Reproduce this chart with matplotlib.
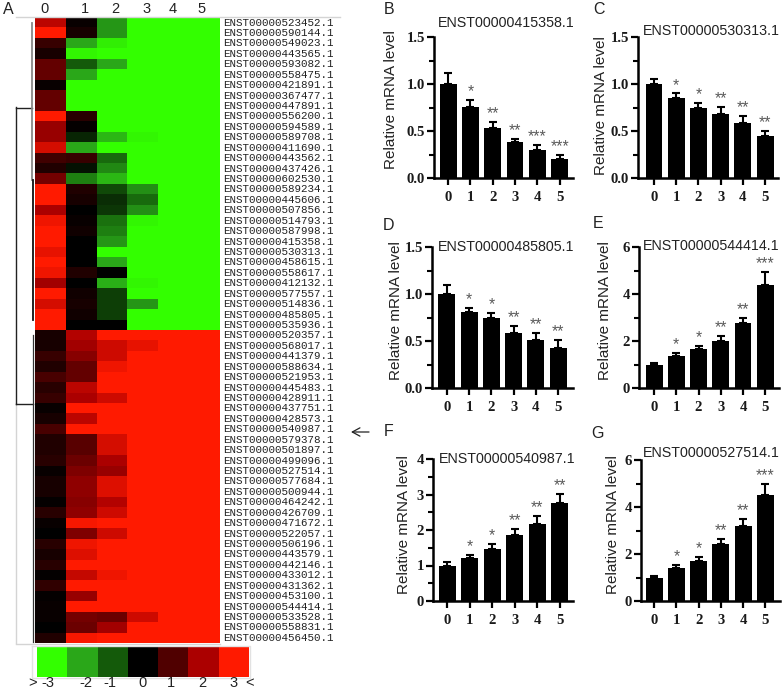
import matplotlib
matplotlib.use("Agg")
import matplotlib.pyplot as plt
import numpy as np
from matplotlib.colors import LinearSegmentedColormap
from matplotlib.ticker import MultipleLocator

W, H = 784, 693

# ---------- heat map data ----------
genes = """523452 590144 549023 443565 593082 558475 421891 367477 447891 556200
594589 589708 411690 443562 437426 602530 589234 445606 507856 514793
587998 415358 530313 458615 558617 412132 577557 514836 485805 535936
520357 568017 441379 588634 521953 445483 428911 437751 428573 540987
579378 501897 499096 527514 577684 500944 464242 426709 471672 522057
506196 443579 442146 433012 431362 453100 544414 533528 558831 456450""".split()
col0 = [2.2, 3, 0.7, 0.3, 1.2, 1.2, 0.1, 1.2, 1.2, 3, 1.8, 1.8, 2.5, 0.8, 0.4, 1.4, 3, 3, 2, 2.8,
        3, 3, 2.7, 3, 2.8, 1.9, 3, 2.5, 3, 3,
        0.3, 0.3, 0.7, 0.4, 0.9, 0.5, 0.7, 0.1, 0.3, 0.9, 0.4, 0.4, 0.5, 0.1, 0.3, 0.3, 0.05, 0.5, 0.1, 0,
        0.5, 0.3, 0.5, 0.05, 0.6, 0.05, 0.1, 0.1, 0, 0.4]
col1 = [0.1, 0.3, -2, -2.9, -1, -2, -3, -3, -3, 0.5, 0.05, -0.4, -2, 0.7, -0.2, -1.5, 0.4, 0.3, 0, 0.1,
        0.2, 0, 0, 0, 0.4, 0, 0.2, 0.3, 0.2, 0,
        2.1, 1.9, 1.6, 1.2, 1.2, 2.2, 2, 3, 2.2, 3, 1.1, 1.1, 1.3, 1.5, 1.7, 1.7, 1.6, 1.7, 2.9, 1.5,
        2.8, 2.6, 3, 2.3, 3, 1.8, 3, 1.4, 1.3, 2.9]
col2 = [-1.8, -1.8, -2.8, -3, -2, -3, -3, -3, -3, -3, -3, -2.2, -3, -1.2, -1.6, -2.2, -0.8, -0.5, -0.6, -1.3,
        -1.5, -1.8, -3, -2, 0, -2.1, -0.7, -0.7, -0.7, 0,
        3, 2.4, 2.4, 2.8, 3, 3, 2.4, 3, 3, 3, 2.5, 2.5, 2, 1.8, 2.6, 2.6, 2.1, 2.4, 3, 2.4,
        3, 3, 3, 2.8, 3, 3, 3, 1.3, 1.9, 3]
col3 = [-3, -3, -3, -3, -3, -3, -3, -3, -3, -3, -3, -2.9, -3, -3, -3, -3, -1.7, -1.2, -1.7, -2.9,
        -3, -3, -3, -3, -3, -2.9, -3, -1.8, -3, -3,
        3, 2.7, 3, 3, 3, 3, 3, 3, 3, 3, 3, 3, 3, 3, 3, 3, 3, 3, 3, 3,
        3, 3, 3, 3, 3, 3, 3, 2.4, 3, 3]
col4 = [-3] * 30 + [3] * 30
col5 = [-3] * 30 + [3] * 30
heat_cols = ["0", "1", "2", "3", "4", "5"]
scale_levels = [-3, -2, -1, 0, 1, 2, 3]
scale_colors = ["#33ff00", "#2aa61a", "#145a0a", "#000000", "#500000", "#aa0000", "#ff1a00"]

# ---------- bar chart data ----------
bar_groups = ["0", "1", "2", "3", "4", "5"]
b_val = [1.0, 0.76, 0.53, 0.38, 0.30, 0.20]
b_top = [1.12, 0.83, 0.60, 0.42, 0.35, 0.25]
b_sig = ["", "*", "**", "**", "***", "***"]
c_val = [1.0, 0.85, 0.74, 0.68, 0.58, 0.45]
c_top = [1.05, 0.90, 0.80, 0.76, 0.66, 0.50]
c_sig = ["", "*", "*", "**", "**", "**"]
d_val = [1.0, 0.81, 0.74, 0.58, 0.51, 0.43]
d_top = [1.10, 0.85, 0.80, 0.66, 0.59, 0.51]
d_sig = ["", "*", "*", "**", "**", "**"]
e_val = [1.0, 1.38, 1.65, 2.0, 2.75, 4.4]
e_top = [1.05, 1.5, 1.8, 2.2, 3.0, 4.95]
e_sig = ["", "*", "*", "**", "**", "***"]
f_val = [1.0, 1.2, 1.47, 1.85, 2.18, 2.75]
f_top = [1.1, 1.3, 1.6, 2.02, 2.4, 3.02]
f_sig = ["", "*", "*", "**", "**", "**"]
g_val = [0.97, 1.4, 1.72, 2.42, 3.2, 4.52]
g_top = [1.05, 1.52, 1.88, 2.65, 3.5, 5.0]
g_sig = ["", "*", "*", "**", "**", "***"]

plt.rcParams["font.family"] = ["Liberation Sans", "DejaVu Sans"]
fig = plt.figure(figsize=(W / 100, H / 100), dpi=100, facecolor="white")


def px_axes(left, top, right, bottom, **kw):
    return fig.add_axes([left / W, 1 - bottom / H, (right - left) / W, (bottom - top) / H], **kw)


# overlay in pixel coordinates for frame lines and free text
ov = fig.add_axes([0, 0, 1, 1], zorder=5)
ov.set_xlim(0, W)
ov.set_ylim(H, 0)
ov.axis("off")
ov.patch.set_alpha(0)

# ---------- heat map ----------
cmap = LinearSegmentedColormap.from_list(
    "gbr", [((v + 3) / 6, c) for v, c in zip(scale_levels, scale_colors)])
heat = np.array([col0, col1, col2, col3, col4, col5]).T
axh = px_axes(35, 17.3, 220, 643)
axh.imshow(heat, cmap=cmap, vmin=-3, vmax=3, aspect="auto", interpolation="nearest")
axh.axis("off")
for i, g in enumerate(genes):
    axh.annotate(f"ENST00000{g}.1", (1, i), xycoords=("axes fraction", "data"),
                 xytext=(2, 0), textcoords="offset points", va="center", ha="left",
                 family="Liberation Mono", fontsize=7.8, color="#222222", clip_on=False)
for name, x in zip(heat_cols, [45, 85, 115, 147, 173, 202]):
    ov.text(x, 9, name, ha="center", va="center", fontsize=10.5, color="#222222")
ov.text(8, 9, "A", ha="center", va="center", fontsize=11.5, color="#222222")

# frame and dendrogram
gray = "#d4d4d4"
ov.plot([16, 16], [403, 643], color=gray, lw=1)
ov.plot([16, 220], [643.5, 643.5], color=gray, lw=1)
ov.plot([16, 340], [16.5, 16.5], color=gray, lw=1)
ov.plot([16, 16], [107, 404], color="#222222", lw=1)
ov.plot([16, 32], [107.5, 107.5], color="#222222", lw=1)
ov.plot([16, 33], [404, 404], color="#222222", lw=1)
ov.plot([32.5, 32.5], [23, 180], color="#888888", lw=1.3)
ov.plot([33, 33], [180, 320], color="#111111", lw=1.3)
ov.plot([33.5, 33.5], [335, 642], color="#333333", lw=0.9)

# colour scale
axs = px_axes(37.3, 647, 249, 677)
axs.imshow(np.array([scale_levels]), cmap=cmap, vmin=-3, vmax=3, aspect="auto", interpolation="nearest")
axs.axis("off")
ov.plot([32, 250, 250, 32, 32], [646, 646, 678, 678, 646], color="#e2e2e2", lw=1)
for t, x in zip([">", "-3", "-2", "-1", "0", "1", "2", "3", "<"],
                [33, 48, 86, 110, 143, 171, 202, 234, 250]):
    ov.text(x, 683, t, ha="center", va="center", fontsize=10.5, color="#222222")

# arrow
ov.annotate("", xy=(351, 432), xytext=(369, 432),
            arrowprops=dict(arrowstyle="->,head_length=0.55,head_width=0.3", color="#222222", lw=0.9,
                            shrinkA=0, shrinkB=0))


# ---------- bar panels ----------
def panel(box, vals, tops, sig, ymax, major, minor, xlim, fmt, title, title_xy, letter, letter_xy, ylab_xy):
    left, top, right, bottom = box
    ax = px_axes(left, top, right, bottom)
    x = np.arange(len(vals))
    v = np.array(vals)
    err = np.array(tops) - v
    ax.bar(x, v, width=0.76, color="black", zorder=2)
    ax.errorbar(x, v, yerr=[np.zeros_like(err), err], fmt="none", ecolor="black",
                elinewidth=1.5, capsize=2.9, capthick=1.5, zorder=1)
    ax.set_xlim(*xlim)
    ax.set_ylim(0, ymax)
    ax.set_xticks(x, bar_groups)
    ax.yaxis.set_major_locator(MultipleLocator(major))
    ax.yaxis.set_minor_locator(MultipleLocator(minor))
    ax.yaxis.set_major_formatter(fmt)
    for s in ("top", "right"):
        ax.spines[s].set_visible(False)
    for s in ("left", "bottom"):
        ax.spines[s].set_linewidth(1.8)
    ax.tick_params(axis="both", which="major", length=5, width=1.6, pad=1.5, color="black")
    ax.tick_params(axis="y", which="minor", length=3.5, width=1.5)
    ax.tick_params(axis="x", pad=4.5)
    for lab in ax.get_xticklabels() + ax.get_yticklabels():
        lab.set_family("Liberation Serif")
        lab.set_weight("bold")
        lab.set_fontsize(10.6)
        lab.set_color("#1a1a1a")
    for xi, t, s in zip(x, tops, sig):
        if s:
            ax.annotate(s, (xi, t), xytext=(0, 0.5), textcoords="offset points", ha="center",
                        va="bottom", fontsize=11.3, color="#5a5a5a")
    ov.text(title_xy[0], title_xy[1], title, ha="left", va="center", fontsize=10.3, color="#222222")
    ov.text(letter_xy[0], letter_xy[1], letter, ha="center", va="center", fontsize=11.5, color="#222222")
    ov.text(ylab_xy[0], ylab_xy[1], "Relative mRNA level", rotation=90, ha="center", va="center",
            fontsize=11.0, color="#222222")


panel((434, 37, 573, 178), b_val, b_top, b_sig, 1.5, 0.5, 0.25, (-0.63, 5.6), "{x:.1f}",
      "ENST00000415358.1", (438, 23), "B", (389, 10), (391, 100))
panel((638, 37, 778, 178), c_val, c_top, c_sig, 1.5, 0.5, 0.25, (-0.72, 5.58), "{x:.1f}",
      "ENST00000530313.1", (643, 31), "C", (599, 10), (601, 106))
panel((432, 247, 573, 388), d_val, d_top, d_sig, 1.5, 0.5, 0.25, (-0.67, 5.67), "{x:.1f}",
      "ENST00000485805.1", (438, 247), "D", (389, 225), (396, 311))
panel((639, 247, 779, 388), e_val, e_top, e_sig, 6, 2, 1, (-0.68, 5.62), "{x:.0f}",
      "ENST00000544414.1", (643, 246), "E", (598, 224), (605, 311))
panel((433, 459, 573, 601), f_val, f_top, f_sig, 4, 1, 0.5, (-0.63, 5.6), "{x:.0f}",
      "ENST00000540987.1", (439, 459), "F", (389, 432), (404, 525))
panel((641, 460, 780, 601), g_val, g_top, g_sig, 6, 2, 1, (-0.59, 5.66), "{x:.0f}",
      "ENST00000527514.1", (643, 453), "G", (598, 433), (613, 525))

fig.savefig("out.png", dpi=100, facecolor="white")
